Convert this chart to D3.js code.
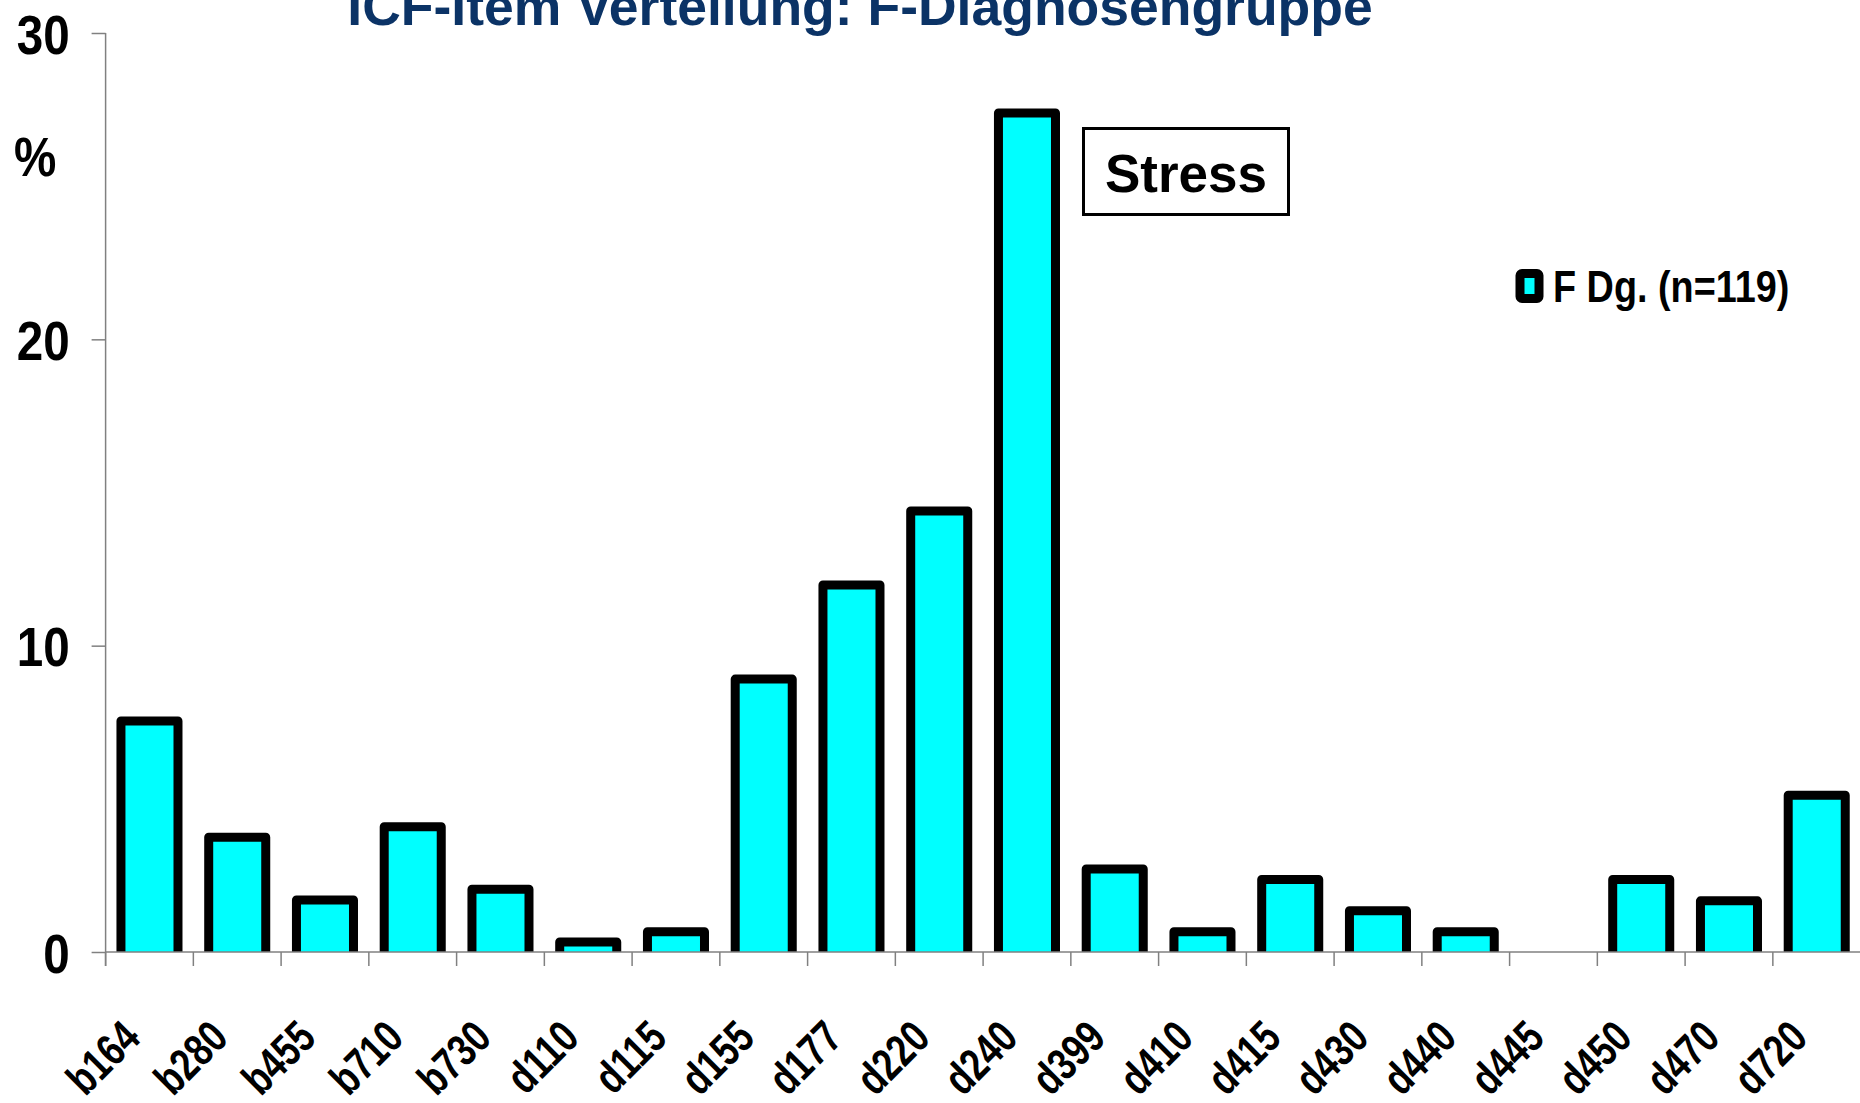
<!DOCTYPE html>
<html>
<head>
<meta charset="utf-8">
<script src="https://cdn.jsdelivr.net/npm/d3@7/dist/d3.min.js"></script>
<style>
  html, body { margin: 0; padding: 0; background: #fff; overflow: hidden; }
  svg { display: block; }
</style>
</head>
<body>
<svg id="chart" width="1860" height="1103"></svg>
<script>
// ---- data ----
const categories = ["b164","b280","b455","b710","b730","d110","d115","d155","d177","d220",
                    "d240","d399","d410","d415","d430","d440","d445","d450","d470","d720"];
const values = [7.54, 3.75, 1.70, 4.09, 2.05, 0.33, 0.66, 8.91, 11.98, 14.40,
                27.39, 2.71, 0.66, 2.37, 1.35, 0.66, 0, 2.37, 1.67, 5.12];
const yTickValues = [0, 10, 20, 30];
const titleText = "ICF-Item Verteilung: F-Diagnosengruppe";
const yUnitLabel = "%";
const seriesName = "F Dg. (n=119)";
const annotationText = "Stress";

(function () {
// ---- layout ----
const svg = d3.select("#chart");
const W = 1860;
const plotLeft = 105.6, plotRight = 1860.6, plotTop = 33, plotBottom = 952;
const font = "'Liberation Sans', Arial, Helvetica, sans-serif";
const sx = 0.85; // horizontal squeeze to imitate a narrow (condensed) face
const axisColor = "#808080";

const x = d3.scaleBand().domain(categories).range([plotLeft, plotRight]).padding(0);
const y = d3.scaleLinear().domain([0, 30]).range([plotBottom, plotTop]);

// title
svg.append("text")
  .attr("x", 860).attr("y", 25)
  .attr("text-anchor", "middle")
  .attr("font-family", font).attr("font-weight", "bold").attr("font-size", 53.5)
  .attr("fill", "#0B3366")
  .text(titleText);

// clip for bars (bars end at the baseline)
svg.append("defs").append("clipPath").attr("id", "plotclip")
  .append("rect").attr("x", plotLeft).attr("y", 0).attr("width", plotRight - plotLeft).attr("height", plotBottom);

// bars
const bw = x.bandwidth() * 0.65;
svg.append("g").attr("clip-path", "url(#plotclip)")
  .selectAll("rect").data(categories.map((c, i) => ({c, v: values[i]})).filter(d => d.v > 0))
  .join("rect")
  .attr("x", d => x(d.c) + (x.bandwidth() - bw) / 2)
  .attr("y", d => y(d.v))
  .attr("width", bw)
  .attr("height", d => y(0) - y(d.v) + 10)
  .attr("fill", "#00FFFF")
  .attr("stroke", "#000")
  .attr("stroke-width", 9)
  .attr("stroke-linejoin", "round");

// y axis
const yAxis = d3.axisLeft(y).tickValues(yTickValues).tickSize(14).tickPadding(22).tickFormat(d3.format("d"));
const gy = svg.append("g").attr("transform", `translate(${plotLeft},0)`).call(yAxis);
gy.select(".domain").remove();
gy.selectAll(".tick line").attr("stroke", axisColor).attr("stroke-width", 1.5);
gy.selectAll(".tick text")
  .attr("font-family", font).attr("font-weight", "bold").attr("font-size", 56)
  .attr("fill", "#000").attr("dy", "0.36em")
  .attr("x", -36 / sx).attr("transform", `scale(${sx},1)`);
svg.append("line")
  .attr("x1", plotLeft).attr("x2", plotLeft).attr("y1", y(30)).attr("y2", plotBottom + 14)
  .attr("stroke", axisColor).attr("stroke-width", 1.5);

// % label
svg.append("text")
  .attr("transform", `translate(14,176) scale(${sx},1)`)
  .attr("font-family", font).attr("font-weight", "bold").attr("font-size", 56)
  .text(yUnitLabel);

// x axis line and boundary ticks
svg.append("line")
  .attr("x1", plotLeft).attr("x2", W).attr("y1", plotBottom).attr("y2", plotBottom)
  .attr("stroke", axisColor).attr("stroke-width", 1.5);
svg.append("g").selectAll("line").data(categories)
  .join("line")
  .attr("x1", d => x(d)).attr("x2", d => x(d))
  .attr("y1", plotBottom).attr("y2", plotBottom + 14)
  .attr("stroke", axisColor).attr("stroke-width", 1.5);

// x labels
svg.append("g").selectAll("text").data(categories)
  .join("text")
  .attr("transform", d => `translate(${x(d) + x.bandwidth() / 2 - 7},${plotBottom + 88}) rotate(-45) scale(0.79,1)`)
  .attr("text-anchor", "end")
  .attr("font-family", font).attr("font-weight", "bold").attr("font-size", 45)
  .text(d => d);

// annotation box
svg.append("rect")
  .attr("x", 1083.5).attr("y", 128.5).attr("width", 205).attr("height", 86)
  .attr("fill", "#fff").attr("stroke", "#000").attr("stroke-width", 3);
svg.append("text")
  .attr("x", 1186).attr("y", 192)
  .attr("text-anchor", "middle")
  .attr("font-family", font).attr("font-weight", "bold").attr("font-size", 53)
  .text(annotationText);

// legend
svg.append("rect")
  .attr("x", 1520).attr("y", 273.5).attr("width", 19).attr("height", 25)
  .attr("rx", 2)
  .attr("fill", "#00FFFF").attr("stroke", "#000").attr("stroke-width", 9)
  .attr("stroke-linejoin", "round");
svg.append("text")
  .attr("transform", `translate(1553,302) scale(0.84,1)`)
  .attr("font-family", font).attr("font-weight", "bold").attr("font-size", 45)
  .text(seriesName);
})();
</script>
</body>
</html>
